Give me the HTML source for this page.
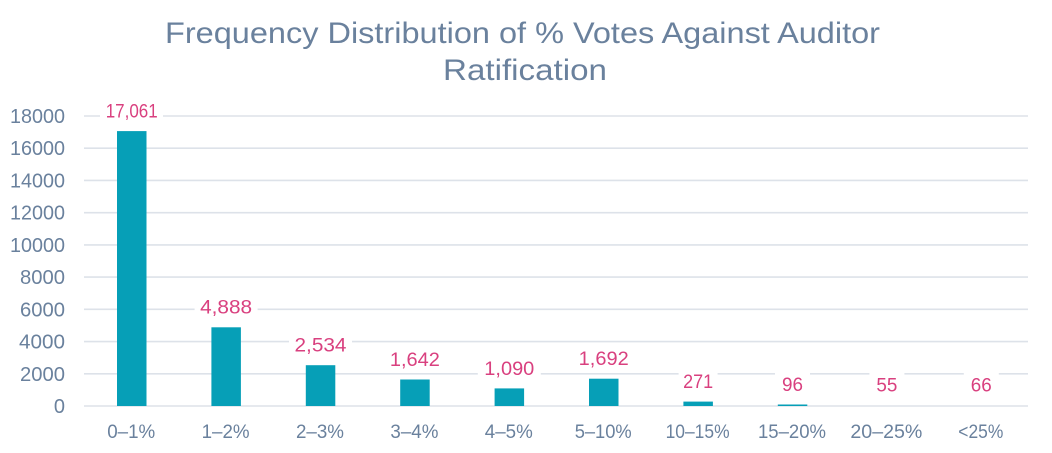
<!DOCTYPE html>
<html>
<head>
<meta charset="utf-8">
<style>
  html, body { margin: 0; padding: 0; background: #ffffff; }
  svg { display: block; }
  text { font-family: "Liberation Sans", "DejaVu Sans", sans-serif; }
</style>
</head>
<body>
<svg width="1052" height="453" viewBox="0 0 1052 453" xmlns="http://www.w3.org/2000/svg">
  <rect x="0" y="0" width="1052" height="453" fill="#ffffff"/>

  <!-- Title -->
  <text x="522.5" y="43" font-size="29.5" fill="#6a819d" text-anchor="middle" textLength="715" lengthAdjust="spacingAndGlyphs">Frequency Distribution of % Votes Against Auditor</text>
  <text x="525" y="80" font-size="29.5" fill="#6a819d" text-anchor="middle" textLength="164" lengthAdjust="spacingAndGlyphs">Ratification</text>

  <!-- Gridlines -->
  <g stroke="#dde2e9" stroke-width="1.6">
    <line x1="84" y1="116" x2="1028" y2="116"/>
    <line x1="84" y1="148.2" x2="1028" y2="148.2"/>
    <line x1="84" y1="180.4" x2="1028" y2="180.4"/>
    <line x1="84" y1="212.7" x2="1028" y2="212.7"/>
    <line x1="84" y1="244.9" x2="1028" y2="244.9"/>
    <line x1="84" y1="277.1" x2="1028" y2="277.1"/>
    <line x1="84" y1="309.3" x2="1028" y2="309.3"/>
    <line x1="84" y1="341.6" x2="1028" y2="341.6"/>
    <line x1="84" y1="373.8" x2="1028" y2="373.8"/>
    <line x1="84" y1="406" x2="1028" y2="406"/>
  </g>

  <!-- Y tick labels -->
  <g font-size="20" fill="#6a819d" text-anchor="end">
    <text x="65" y="123" textLength="55" lengthAdjust="spacingAndGlyphs">18000</text>
    <text x="65" y="155.2" textLength="55" lengthAdjust="spacingAndGlyphs">16000</text>
    <text x="65" y="187.4" textLength="55" lengthAdjust="spacingAndGlyphs">14000</text>
    <text x="65" y="219.7" textLength="55" lengthAdjust="spacingAndGlyphs">12000</text>
    <text x="65" y="251.9" textLength="55" lengthAdjust="spacingAndGlyphs">10000</text>
    <text x="65" y="284.1" textLength="45" lengthAdjust="spacingAndGlyphs">8000</text>
    <text x="65" y="316.3" textLength="45" lengthAdjust="spacingAndGlyphs">6000</text>
    <text x="65" y="348.6" textLength="46" lengthAdjust="spacingAndGlyphs">4000</text>
    <text x="65" y="380.8" textLength="45" lengthAdjust="spacingAndGlyphs">2000</text>
    <text x="65" y="413">0</text>
  </g>

  <!-- Bars -->
  <g fill="#069fb7">
    <rect x="117" y="131.1" width="29.5" height="274.9"/>
    <rect x="211.4" y="327.3" width="29.5" height="78.7"/>
    <rect x="305.8" y="365.2" width="29.5" height="40.8"/>
    <rect x="400.2" y="379.5" width="29.5" height="26.5"/>
    <rect x="494.6" y="388.4" width="29.5" height="17.6"/>
    <rect x="589" y="378.7" width="29.5" height="27.3"/>
    <rect x="683.4" y="401.6" width="29.5" height="4.4"/>
    <rect x="777.8" y="404.5" width="29.5" height="1.5"/>
  </g>

  <!-- Data label backgrounds -->
  <g fill="#ffffff">
    <rect x="100" y="98" width="63" height="26"/>
    <rect x="194.6" y="294" width="63" height="26"/>
    <rect x="289" y="332" width="63" height="26"/>
    <rect x="383.4" y="346.5" width="63" height="26"/>
    <rect x="477.8" y="355.4" width="63" height="26"/>
    <rect x="572.2" y="345.7" width="63" height="26"/>
    <rect x="678.6" y="368.6" width="39" height="26"/>
    <rect x="775" y="371.5" width="35" height="26"/>
    <rect x="869.4" y="372.1" width="35" height="26"/>
    <rect x="963.8" y="371.9" width="35" height="26"/>
  </g>

  <!-- Data labels -->
  <g font-size="19.5" fill="#d9407f" text-anchor="middle">
    <text x="131.7" y="117.5" textLength="52" lengthAdjust="spacingAndGlyphs">17,061</text>
    <text x="226.1" y="313.7" textLength="52" lengthAdjust="spacingAndGlyphs">4,888</text>
    <text x="320.5" y="351.7" textLength="52" lengthAdjust="spacingAndGlyphs">2,534</text>
    <text x="414.9" y="366" textLength="50" lengthAdjust="spacingAndGlyphs">1,642</text>
    <text x="509.3" y="374.9" textLength="50" lengthAdjust="spacingAndGlyphs">1,090</text>
    <text x="603.7" y="365.2" textLength="50" lengthAdjust="spacingAndGlyphs">1,692</text>
    <text x="698.1" y="388.1" textLength="30" lengthAdjust="spacingAndGlyphs">271</text>
    <text x="792.5" y="391" textLength="21" lengthAdjust="spacingAndGlyphs">96</text>
    <text x="886.9" y="391.6" textLength="21" lengthAdjust="spacingAndGlyphs">55</text>
    <text x="981.3" y="391.4" textLength="21" lengthAdjust="spacingAndGlyphs">66</text>
  </g>

  <!-- X labels -->
  <g font-size="19.5" fill="#6a819d" text-anchor="middle">
    <text x="131.2" y="438" textLength="48" lengthAdjust="spacingAndGlyphs">0–1%</text>
    <text x="225.6" y="438" textLength="48" lengthAdjust="spacingAndGlyphs">1–2%</text>
    <text x="320" y="438" textLength="48" lengthAdjust="spacingAndGlyphs">2–3%</text>
    <text x="414.4" y="438" textLength="48" lengthAdjust="spacingAndGlyphs">3–4%</text>
    <text x="508.8" y="438" textLength="48" lengthAdjust="spacingAndGlyphs">4–5%</text>
    <text x="603.2" y="438" textLength="57" lengthAdjust="spacingAndGlyphs">5–10%</text>
    <text x="697.6" y="438" textLength="64" lengthAdjust="spacingAndGlyphs">10–15%</text>
    <text x="792" y="438" textLength="68" lengthAdjust="spacingAndGlyphs">15–20%</text>
    <text x="886.4" y="438" textLength="72" lengthAdjust="spacingAndGlyphs">20–25%</text>
    <text x="980.8" y="438" textLength="45" lengthAdjust="spacingAndGlyphs">&lt;25%</text>
  </g>
</svg>
</body>
</html>
